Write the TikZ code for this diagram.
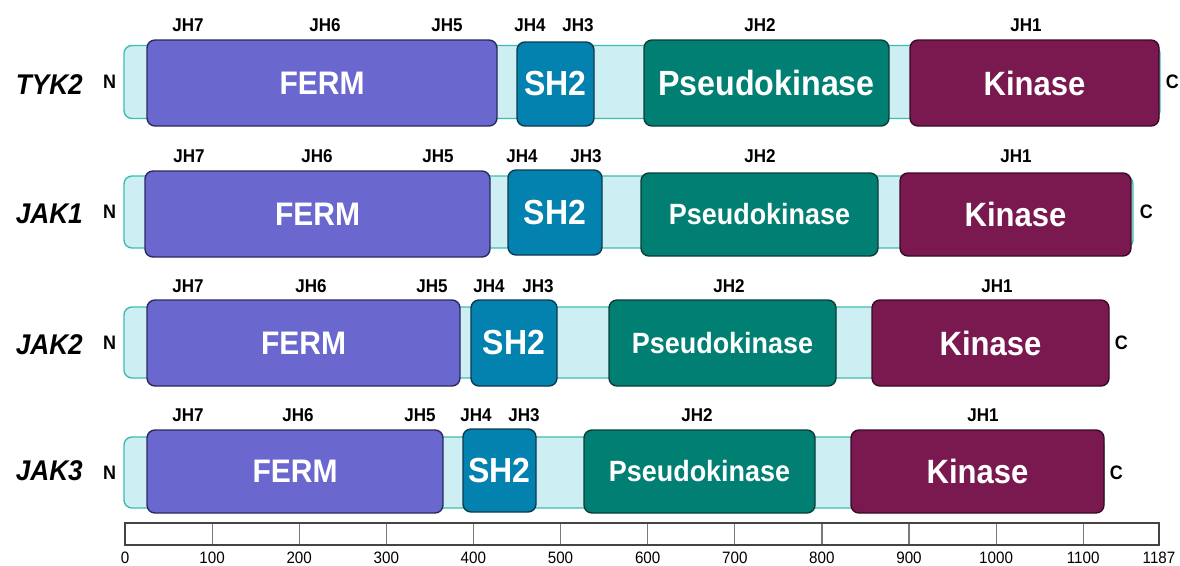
\documentclass[tikz,border=0pt]{standalone}
\usepackage{fontspec}
\setmainfont{Liberation Sans}[FakeStretch=0.92]
\usetikzlibrary{positioning}
\definecolor{linkerfill}{HTML}{CDEEF3}
\definecolor{linkerline}{HTML}{3DBDB0}
\definecolor{fermfill}{HTML}{6A67CF}
\definecolor{fermline}{HTML}{2B2A5E}
\definecolor{shfill}{HTML}{0381AF}
\definecolor{shline}{HTML}{0D3B4F}
\definecolor{pkfill}{HTML}{007F72}
\definecolor{pkline}{HTML}{0B3E38}
\definecolor{kinfill}{HTML}{7A1850}
\definecolor{kinline}{HTML}{3A0A26}
\definecolor{rulerline}{HTML}{444444}
\definecolor{tickline}{HTML}{7A7A7A}
\tikzset{
  linker/.style={draw=linkerline, fill=linkerfill, line width=1.4pt, rounded corners=8pt, inner sep=0pt},
  dombox/.style={line width=1.4pt, rounded corners=8pt, inner sep=0pt, text=white, font=\bfseries\fontsize{32.6}{32.6}\selectfont},
  ferm/.style={dombox, fill=fermfill, draw=fermline},
  shtwo/.style={dombox, fill=shfill, draw=shline, font=\bfseries\fontsize{34.8}{34.8}\selectfont},
  pseudo/.style={dombox, fill=pkfill, draw=pkline, font=\bfseries\fontsize{29.3}{29.3}\selectfont},
  kin/.style={dombox, fill=kinfill, draw=kinline, font=\bfseries\fontsize{33.7}{33.7}\selectfont},
  jh/.style={font=\bfseries\fontsize{18.5}{18.5}\selectfont, inner sep=0pt},
  term/.style={font=\bfseries\fontsize{19.5}{19.5}\selectfont, inner sep=0pt},
  protein/.style={font=\bfseries\itshape\fontsize{28.5}{28.5}\selectfont, inner sep=0pt, anchor=east},
  tickno/.style={font=\fontsize{16.5}{16.5}\selectfont, inner sep=0pt}
}
\begin{document}
\begin{tikzpicture}[x=1pt, y=-1pt]
\useasboundingbox (0,0) rectangle (1180,565);

\node[protein] (tyk2) at (83,85) {TYK2};
\node[linker, minimum width=1036pt, minimum height=73pt] (tyk2bar) at (642,82) {};
\node[ferm, minimum width=350pt, minimum height=86pt] (tyk2ferm) at (322,83) {FERM};
\node[shtwo, minimum width=77pt, minimum height=84pt] (tyk2sh) at (555.5,84) {SH2};
\node[pseudo, font=\bfseries\fontsize{35}{35}\selectfont, minimum width=245pt, minimum height=86pt] (tyk2pk) at (766.5,83) {Pseudokinase};
\node[kin, minimum width=249pt, minimum height=86pt] (tyk2kin) at (1034.5,83) {Kinase};
\node[term, left=7pt of tyk2bar] (tyk2n) {N};
\node[term, right=5pt of tyk2bar] (tyk2c) {C};
\node[jh] (tyk2jh7) at (188,25) {JH7};
\node[jh] (tyk2jh6) at (325,25) {JH6};
\node[jh] (tyk2jh5) at (447,25) {JH5};
\node[jh] (tyk2jh4) at (530,25) {JH4};
\node[jh] (tyk2jh3) at (578,25) {JH3};
\node[jh] (tyk2jh2) at (760,25) {JH2};
\node[jh] (tyk2jh1) at (1026,25) {JH1};

\node[protein] (jak1) at (83,214) {JAK1};
\node[linker, minimum width=1009pt, minimum height=72pt] (jak1bar) at (628.5,212) {};
\node[ferm, minimum width=345pt, minimum height=86pt] (jak1ferm) at (317.5,214) {FERM};
\node[shtwo, minimum width=94pt, minimum height=85pt] (jak1sh) at (555,212.5) {SH2};
\node[pseudo, minimum width=237pt, minimum height=83pt] (jak1pk) at (759.5,214.5) {Pseudokinase};
\node[kin, minimum width=231pt, minimum height=83pt] (jak1kin) at (1015.5,214.5) {Kinase};
\node[term, left=7pt of jak1bar] (jak1n) {N};
\node[term, right=6pt of jak1bar] (jak1c) {C};
\node[jh] (jak1jh7) at (189,156) {JH7};
\node[jh] (jak1jh6) at (317,156) {JH6};
\node[jh] (jak1jh5) at (438,156) {JH5};
\node[jh] (jak1jh4) at (522,156) {JH4};
\node[jh] (jak1jh3) at (586,156) {JH3};
\node[jh] (jak1jh2) at (760,156) {JH2};
\node[jh] (jak1jh1) at (1016,156) {JH1};

\node[protein] (jak2) at (83,345) {JAK2};
\node[linker, minimum width=984pt, minimum height=71pt] (jak2bar) at (616,342.5) {};
\node[ferm, minimum width=313pt, minimum height=86pt] (jak2ferm) at (303.5,343) {FERM};
\node[shtwo, minimum width=86pt, minimum height=86pt] (jak2sh) at (514,343) {SH2};
\node[pseudo, minimum width=227pt, minimum height=86pt] (jak2pk) at (722.5,343) {Pseudokinase};
\node[kin, minimum width=237pt, minimum height=86pt] (jak2kin) at (990.5,343) {Kinase};
\node[term, left=7pt of jak2bar] (jak2n) {N};
\node[term, right=6pt of jak2bar] (jak2c) {C};
\node[jh] (jak2jh7) at (188,286) {JH7};
\node[jh] (jak2jh6) at (311,286) {JH6};
\node[jh] (jak2jh5) at (432,286) {JH5};
\node[jh] (jak2jh4) at (489,286) {JH4};
\node[jh] (jak2jh3) at (538,286) {JH3};
\node[jh] (jak2jh2) at (729,286) {JH2};
\node[jh] (jak2jh1) at (997,286) {JH1};

\node[protein] (jak3) at (83,471) {JAK3};
\node[linker, minimum width=980pt, minimum height=71pt] (jak3bar) at (614,472.5) {};
\node[ferm, minimum width=296pt, minimum height=83pt] (jak3ferm) at (295,471.5) {FERM};
\node[shtwo, minimum width=73pt, minimum height=83pt] (jak3sh) at (499.5,470.5) {SH2};
\node[pseudo, minimum width=231pt, minimum height=83pt] (jak3pk) at (699.5,471.5) {Pseudokinase};
\node[kin, minimum width=253pt, minimum height=83pt] (jak3kin) at (977.5,471.5) {Kinase};
\node[term, left=7pt of jak3bar] (jak3n) {N};
\node[term, right=5pt of jak3bar] (jak3c) {C};
\node[jh] (jak3jh7) at (188,415) {JH7};
\node[jh] (jak3jh6) at (298,415) {JH6};
\node[jh] (jak3jh5) at (420,415) {JH5};
\node[jh] (jak3jh4) at (476,415) {JH4};
\node[jh] (jak3jh3) at (524,415) {JH3};
\node[jh] (jak3jh2) at (697,415) {JH2};
\node[jh] (jak3jh1) at (983,415) {JH1};

\draw[tickline, line width=1.2pt] (212.1,524) -- (212.1,545) (299.2,524) -- (299.2,545)
  (386.3,524) -- (386.3,545) (473.4,524) -- (473.4,545) (560.5,524) -- (560.5,545)
  (647.7,524) -- (647.7,545) (734.8,524) -- (734.8,545) (821.9,524) -- (821.9,545)
  (909.0,524) -- (909.0,545) (996.1,524) -- (996.1,545) (1083.2,524) -- (1083.2,545);
\draw[rulerline, line width=2pt] (125,523) rectangle (1159,545);
\node[tickno] (n0) at (125,558) {0};
\node[tickno] (n100) at (212.1,558) {100};
\node[tickno] (n200) at (299.2,558) {200};
\node[tickno] (n300) at (386.3,558) {300};
\node[tickno] (n400) at (473.4,558) {400};
\node[tickno] (n500) at (560.5,558) {500};
\node[tickno] (n600) at (647.7,558) {600};
\node[tickno] (n700) at (734.8,558) {700};
\node[tickno] (n800) at (821.9,558) {800};
\node[tickno] (n900) at (909.0,558) {900};
\node[tickno] (n1000) at (996.1,558) {1000};
\node[tickno] (n1100) at (1083.2,558) {1100};
\node[tickno] (n1187) at (1159,558) {1187};
\end{tikzpicture}
\end{document}
